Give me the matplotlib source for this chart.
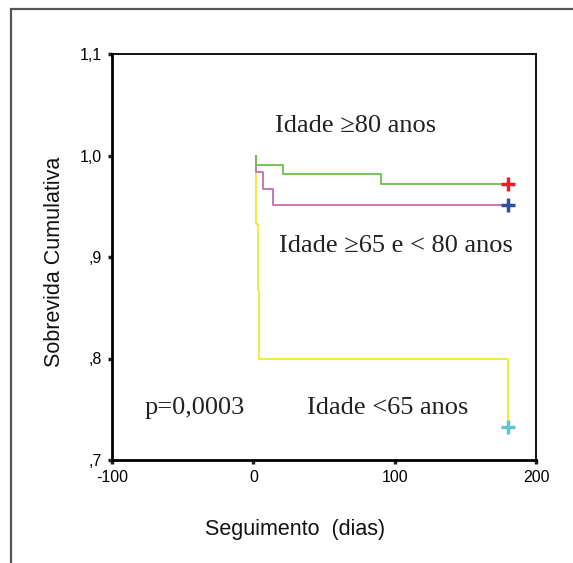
import matplotlib
matplotlib.use("Agg")
import matplotlib.pyplot as plt
from matplotlib.patches import Rectangle

# curvas de Kaplan-Meier (dias, sobrevida)
t_80 = [2, 2, 21, 90, 180]
s_80 = [1.0, 0.991, 0.982, 0.972, 0.972]

t_65_80 = [2, 2, 7, 14, 180]
s_65_80 = [1.0, 0.984, 0.967, 0.951, 0.951]

t_65 = [2, 2, 3, 4, 180, 180]
s_65 = [1.0, 0.933, 0.867, 0.80, 0.80, 0.733]

# censuras no fim do seguimento
cens_x = [180, 180, 180]
cens_y = [0.972, 0.951, 0.733]
cens_cor = ["#e8202a", "#3050a0", "#62c4d8"]

xticks = [-100, 0, 100, 200]
yticks = [0.7, 0.8, 0.9, 1.0, 1.1]
ytick_labels = [",7", ",8", ",9", "1,0", "1,1"]

fig = plt.figure(figsize=(5.73, 5.63), dpi=100)

# moldura exterior
fig.patches.append(Rectangle((11 / 573, -0.05), 1.2, 1 - 8.5 / 563 + 0.05,
                             transform=fig.transFigure, fill=False,
                             edgecolor="#555555", linewidth=1.6))

ax = fig.add_axes([112 / 573, 1 - 460 / 563, 424 / 573, 406 / 563])

ax.step(t_80, s_80, where="post", color="#6cbf4a", lw=1.3, zorder=3)
ax.step(t_65_80, s_65_80, where="post", color="#c070b0", lw=1.3, zorder=2)
ax.step(t_65, s_65, where="post", color="#f2e830", lw=1.3, zorder=1)
for x, y, c in zip(cens_x, cens_y, cens_cor):
    ax.plot(x, y, marker="+", color=c, ms=10, mew=2.5, zorder=4)

ax.set_xlim(-100, 200)
ax.set_ylim(0.7, 1.1)
ax.set_xticks(xticks)
ax.set_xticklabels([str(v) for v in xticks])
ax.set_yticks(yticks)
ax.set_yticklabels(ytick_labels)
ax.tick_params(direction="out", length=3, width=2.5, labelsize=11.5,
               pad=4, color="#222222")
for lab in ax.get_xticklabels() + ax.get_yticklabels():
    lab.set_fontfamily("Liberation Sans")

ax.spines["left"].set_linewidth(2)
ax.spines["bottom"].set_linewidth(2)
ax.spines["top"].set_linewidth(1.3)
ax.spines["right"].set_linewidth(1.3)

serif = dict(family="Liberation Serif", fontsize=19, color="#222222")
fig.text(275 / 573, 1 - 126 / 563, "Idade ≥80 anos", va="center", **serif)
fig.text(279 / 573, 1 - 246 / 563, "Idade ≥65 e < 80 anos", va="center", **serif)
fig.text(145 / 573, 1 - 408 / 563, "p=0,0003", va="center", **serif)
fig.text(307 / 573, 1 - 408 / 563, "Idade <65 anos", va="center", **serif)

sans = dict(family="Liberation Sans", fontsize=15.5, color="#111111")
fig.text(295 / 573, 1 - 529 / 563, "Seguimento  (dias)", ha="center",
         va="center", **sans)
fig.text(55 / 573, 1 - 262 / 563, "Sobrevida Cumulativa", ha="center",
         va="center", rotation=90, **sans)

fig.savefig("out.png", dpi=100)
